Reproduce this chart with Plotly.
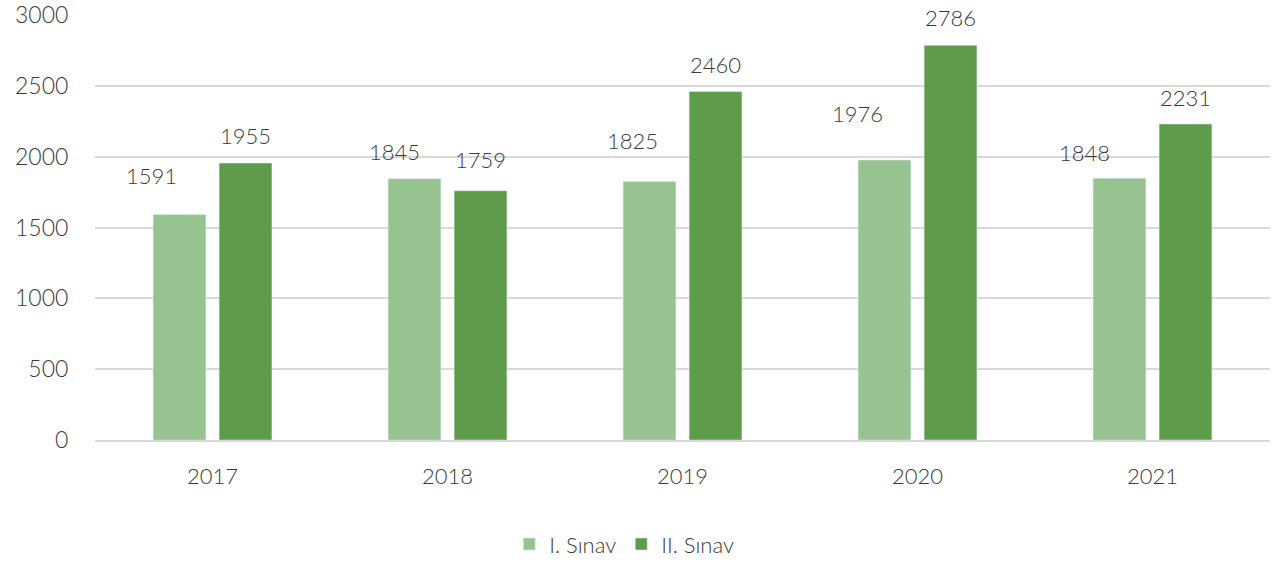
import plotly.graph_objects as go

years = ["2017", "2018", "2019", "2020", "2021"]
sinav1 = [1591, 1845, 1825, 1976, 1848]
sinav2 = [1955, 1759, 2460, 2786, 2231]
series_names = ["I. Sınav", "II. Sınav"]

# label nudges (pixels) relative to the top-centre of each bar
nudge1_dx = [-28, -20, -17, -27, -35]
nudge1_dy = [39, 27, 41, 47, 26]
nudge2_dx = [0, 0, 0, 0, 0]
nudge2_dy = [28, 31, 27, 28, 26]

c1 = "#97C390"
c2 = "#5E9B4B"
font_family = "Lato, 'Open Sans', sans-serif"
txt = "#3A3A3A"
fw = 300

fig = go.Figure()
fig.add_trace(go.Bar(x=years, y=sinav1, name=series_names[0], marker_color=c1))
fig.add_trace(go.Bar(x=years, y=sinav2, name=series_names[1], marker_color=c2))

bar_off = 33
for i, y in enumerate(years):
    # x given as category index so the category axis places it correctly
    fig.add_annotation(x=i, y=sinav1[i], text=str(sinav1[i]), showarrow=False,
                       xref="x", yref="y",
                       xshift=-bar_off + nudge1_dx[i], yshift=nudge1_dy[i],
                       font=dict(size=22, color=txt, family=font_family, weight=fw))
    fig.add_annotation(x=i, y=sinav2[i], text=str(sinav2[i]), showarrow=False,
                       xref="x", yref="y",
                       xshift=bar_off + nudge2_dx[i], yshift=nudge2_dy[i],
                       font=dict(size=22, color=txt, family=font_family, weight=fw))

fig.update_layout(
    width=1274, height=561,
    margin=dict(l=95, r=4, t=15, b=121, autoexpand=False),
    paper_bgcolor="white", plot_bgcolor="white",
    barmode="group", bargap=0.438, bargroupgap=0.2,
    font=dict(family=font_family, size=22, color=txt, weight=fw),
    legend=dict(orientation="h", xref="container", x=0.49, xanchor="center",
                yref="container", y=0.03, yanchor="middle",
                font=dict(size=22, color=txt, weight=fw)),
    showlegend=True,
)
fig.update_yaxes(range=[0, 3000], dtick=500, showgrid=True, gridcolor="#D9D9D9",
                 gridwidth=1.5, zeroline=False, ticks="outside", ticklen=21,
                 tickcolor="rgba(0,0,0,0)",
                 tickfont=dict(size=23, color=txt, weight=fw), automargin=False)
fig.update_xaxes(type="category", range=[-0.5, len(years) - 0.5],
                 showline=True, linecolor="#D9D9D9", linewidth=1.5,
                 ticks="outside", ticklen=16, tickcolor="rgba(0,0,0,0)",
                 tickfont=dict(size=22, color=txt, weight=fw), automargin=False)

fig.write_html("out.html", config={"displayModeBar": False},
               post_script="document.body.style.margin='0';")
